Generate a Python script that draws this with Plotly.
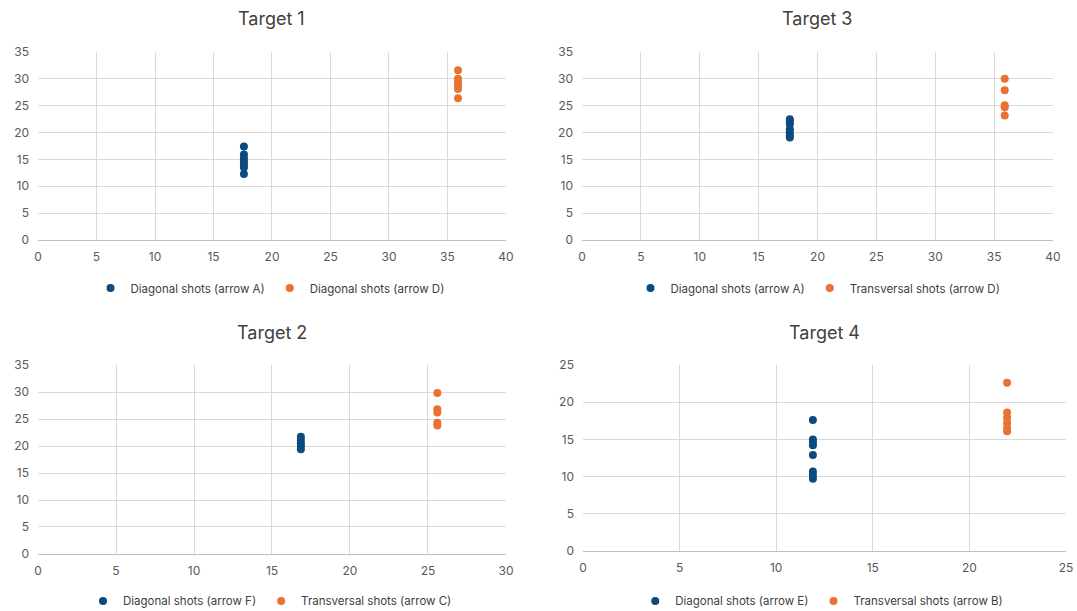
import plotly.graph_objects as go

# Shot positions per target (x = lane distance, y = height)
t1_a_x = [17.6] * 7
t1_a_y = [17.4, 15.9, 15.2, 14.6, 14.0, 13.5, 12.3]
t1_d_x = [35.9] * 6
t1_d_y = [31.6, 30.0, 29.4, 28.8, 28.1, 26.4]

t3_a_x = [17.65] * 7
t3_a_y = [22.5, 22.0, 21.6, 20.6, 20.0, 19.5, 19.1]
t3_d_x = [35.9] * 5
t3_d_y = [30.0, 27.9, 25.1, 24.7, 23.2]

t2_f_x = [16.85] * 5
t2_f_y = [21.7, 21.1, 20.5, 20.0, 19.4]
t2_c_x = [25.6] * 5
t2_c_y = [29.8, 26.8, 26.2, 24.3, 23.8]

t4_e_x = [11.9] * 8
t4_e_y = [17.6, 15.0, 14.6, 14.2, 12.9, 10.7, 10.2, 9.7]
t4_b_x = [21.95] * 6
t4_b_y = [22.6, 18.6, 17.9, 17.2, 16.5, 16.1]

BLUE = "#0C4A80"
ORANGE = "#E97132"
FONT = "Inter, Open Sans, sans-serif"

panels = [
    # title, x range, y range, x domain, y domain, series, legend id, legend x, legend y, title y
    ("Target 1", [0, 40], [0, 35], [0.0353, 0.4698], [0.6072, 0.9149],
     [("Diagonal shots (arrow A)", t1_a_x, t1_a_y, BLUE),
      ("Diagonal shots (arrow D)", t1_d_x, t1_d_y, ORANGE)],
     "legend", 0.2507, 0.5286, 0.9705),
    ("Target 3", [0, 40], [0, 35], [0.5404, 0.9777], [0.6072, 0.9149],
     [("Diagonal shots (arrow A)", t3_a_x, t3_a_y, BLUE),
      ("Transversal shots (arrow D)", t3_d_x, t3_d_y, ORANGE)],
     "legend2", 0.7595, 0.5286, 0.9705),
    ("Target 2", [0, 30], [0, 35], [0.0353, 0.4698], [0.0933, 0.4026],
     [("Diagonal shots (arrow F)", t2_f_x, t2_f_y, BLUE),
      ("Transversal shots (arrow C)", t2_c_x, t2_c_y, ORANGE)],
     "legend3", 0.2507, 0.0164, 0.455),
    ("Target 4", [0, 25], [0, 25], [0.5413, 0.9898], [0.0982, 0.4026],
     [("Diagonal shots (arrow E)", t4_e_x, t4_e_y, BLUE),
      ("Transversal shots (arrow B)", t4_b_x, t4_b_y, ORANGE)],
     "legend4", 0.7630, 0.0164, 0.455),
]

fig = go.Figure()
layout = dict(
    width=1077, height=611,
    margin=dict(l=0, r=0, t=0, b=0, autoexpand=False),
    paper_bgcolor="white", plot_bgcolor="white",
    font=dict(family=FONT, color="#595959", size=12),
    annotations=[],
)

for i, (title, xr, yr, xd, yd, series, leg, lx, ly, ty) in enumerate(panels, start=1):
    sfx = "" if i == 1 else str(i)
    for name, xs, ys, col in series:
        fig.add_trace(go.Scatter(
            x=xs, y=ys, mode="markers", name=name,
            marker=dict(color=col, size=8, line=dict(width=0)),
            xaxis="x" + sfx, yaxis="y" + sfx, legend=leg,
        ))
    layout["xaxis" + sfx] = dict(
        domain=xd, range=xr, dtick=5, anchor="y" + sfx,
        showgrid=True, gridcolor="#D9D9D9", gridwidth=1,
        showline=True, linecolor="#BFBFBF", linewidth=1,
        zeroline=False, ticks="", fixedrange=True, ticklabelstandoff=6,
        tickfont=dict(size=12, color="#595959"),
    )
    layout["yaxis" + sfx] = dict(
        domain=yd, range=yr, dtick=5, anchor="x" + sfx,
        showgrid=True, gridcolor="#D9D9D9", gridwidth=1,
        showline=False, zeroline=False, ticks="", fixedrange=True,
        ticklabelstandoff=8,
        tickfont=dict(size=12, color="#595959"),
    )
    layout[leg] = dict(
        orientation="h", x=lx, y=ly, xanchor="center", yanchor="middle",
        font=dict(size=11.5, color="#404040", family=FONT),
        bgcolor="rgba(0,0,0,0)", itemwidth=30, tracegroupgap=0,
    )
    layout["annotations"].append(dict(
        text=title, x=(xd[0] + xd[1]) / 2, y=ty, xref="paper", yref="paper",
        xanchor="center", yanchor="middle", showarrow=False,
        font=dict(size=18, color="#404040", family=FONT),
    ))

fig.update_layout(**layout)
fig.write_html("out.html")
